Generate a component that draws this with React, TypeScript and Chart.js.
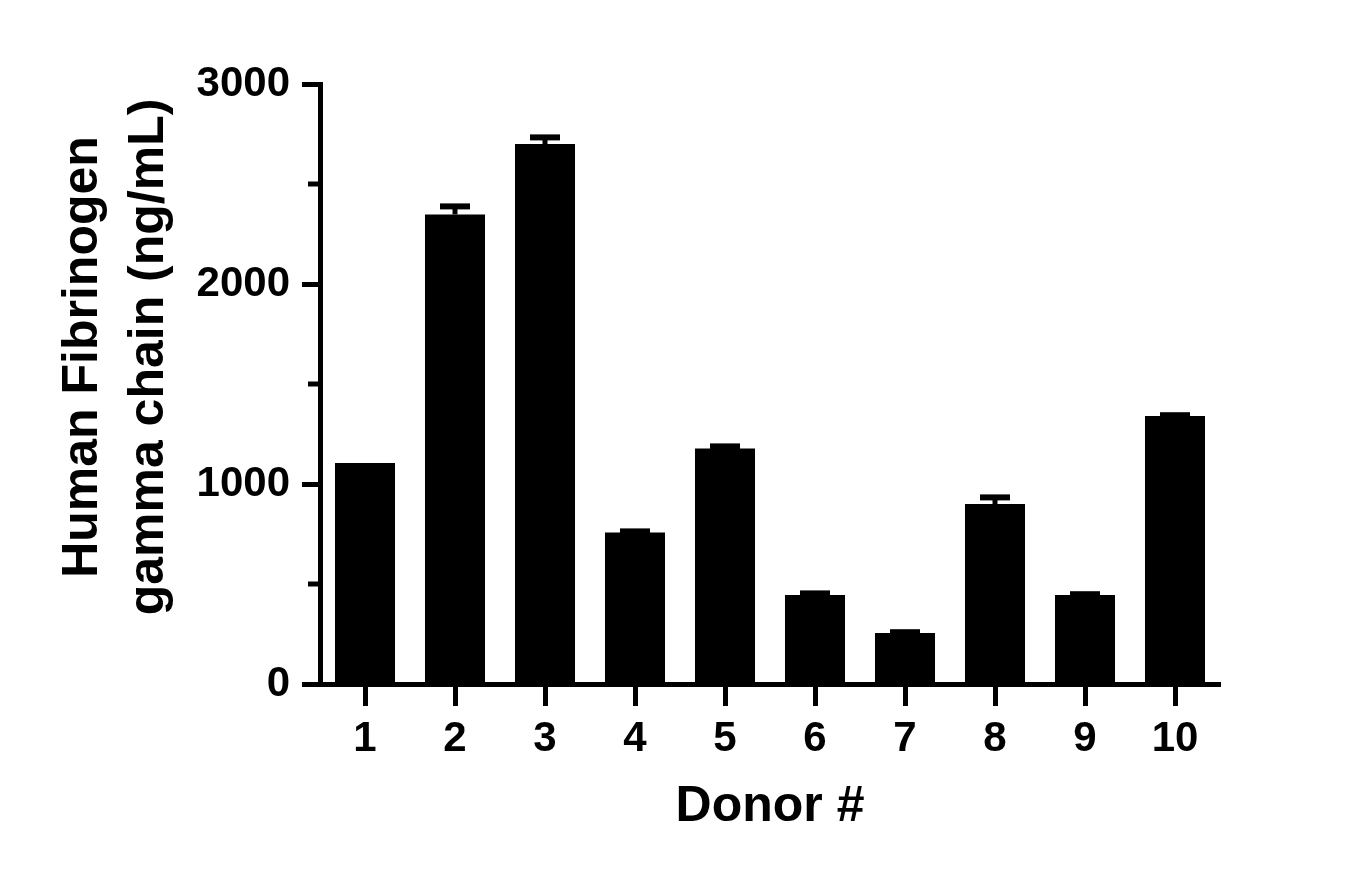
import { useEffect, useRef } from 'react';
import { Chart, registerables } from 'chart.js';

Chart.register(...registerables);

// ─── Data ────────────────────────────────────────────────────────────────────

const DONORS = ['1', '2', '3', '4', '5', '6', '7', '8', '9', '10'];
const MEANS  = [1105, 2348, 2700, 757, 1178, 445, 255, 900, 445, 1340];
const ERRORS = [0, 40, 33, 6, 10, 8, 4, 33, 4, 4];

const Y_MAJOR = [0, 1000, 2000, 3000];
const Y_MINOR = [500, 1500, 2500];

const Y_TITLE = ['Human Fibrinogen', 'gamma chain (ng/mL)'];
const X_TITLE = 'Donor #';

const FAMILY = '"Liberation Sans", Arial, sans-serif';
const TICK_FONT  = { family: FAMILY, size: 42, weight: 'bold' as const };
const TITLE_FONT = { family: FAMILY, size: 50, weight: 'bold' as const };

// ─── Plugins ──────────────────────────────────────────────────────────────────

const errorBars = {
  id: 'errorBars',
  afterDatasetsDraw(chart: Chart) {
    const { ctx, scales: { x, y } } = chart;
    ctx.save();
    ctx.strokeStyle = '#000';
    MEANS.forEach((m, i) => {
      const e = ERRORS[i];
      if (!e) return;
      const px   = x.getPixelForValue(i);
      const base = y.getPixelForValue(m);
      const top  = y.getPixelForValue(m + e);
      ctx.lineWidth = 5;
      ctx.beginPath();
      ctx.moveTo(px, base);
      ctx.lineTo(px, top);
      ctx.stroke();
      ctx.lineWidth = 6;
      ctx.beginPath();
      ctx.moveTo(px - 15, top);
      ctx.lineTo(px + 15, top);
      ctx.stroke();
    });
    ctx.restore();
  },
};

const minorTicks = {
  id: 'minorTicks',
  afterDraw(chart: Chart) {
    const { ctx, chartArea, scales: { y } } = chart;
    ctx.save();
    ctx.strokeStyle = '#000';
    ctx.lineWidth = 5;
    Y_MINOR.forEach(v => {
      const py = y.getPixelForValue(v);
      ctx.beginPath();
      ctx.moveTo(chartArea.left - 12, py);
      ctx.lineTo(chartArea.left, py);
      ctx.stroke();
    });
    ctx.restore();
  },
};

// two-line y title, centred a little above the axis middle like the original
const yTitle = {
  id: 'yTitle',
  afterDraw(chart: Chart) {
    const { ctx } = chart;
    ctx.save();
    ctx.fillStyle = '#000';
    ctx.font = `bold ${TITLE_FONT.size}px ${FAMILY}`;
    ctx.textAlign = 'center';
    ctx.textBaseline = 'alphabetic';
    const baselines = [97, 163];
    Y_TITLE.forEach((line, i) => {
      ctx.save();
      ctx.translate(baselines[i], 357);
      ctx.rotate(-Math.PI / 2);
      ctx.fillText(line, 0, 0);
      ctx.restore();
    });
    ctx.restore();
  },
};

// ─── Bar chart ────────────────────────────────────────────────────────────────

function DonorChart() {
  const canvasRef = useRef<HTMLCanvasElement>(null);
  const chartRef  = useRef<Chart | null>(null);

  useEffect(() => {
    if (!canvasRef.current) return;

    const existingChart = Chart.getChart(canvasRef.current);
    if (existingChart) existingChart.destroy();
    chartRef.current?.destroy();

    chartRef.current = new Chart(canvasRef.current, {
      type: 'bar',
      data: {
        labels: DONORS,
        datasets: [{
          data: MEANS,
          backgroundColor: '#000',
          borderWidth: 0,
          barPercentage: 0.667,
          categoryPercentage: 1,
        }],
      },
      options: {
        responsive: true,
        maintainAspectRatio: false,
        animation: false,
        layout: { padding: { top: 84, right: 138, left: 0, bottom: 0 } },
        plugins: {
          legend: { display: false },
          tooltip: { enabled: false },
        },
        scales: {
          x: {
            offset: true,
            grid: {
              offset: false,
              drawOnChartArea: false,
              tickLength: 22,
              tickWidth: 5,
              tickColor: '#000',
            },
            border: { color: '#000', width: 5 },
            ticks: { color: '#000', font: TICK_FONT, padding: 8 },
            title: {
              display: true,
              text: X_TITLE,
              color: '#000',
              font: TITLE_FONT,
              padding: { top: 0, bottom: 39 },
            },
            afterFit: (scale: any) => { scale.height = 192; },
          },
          y: {
            min: 0,
            max: 3000,
            afterBuildTicks: (scale: any) => {
              scale.ticks = Y_MAJOR.map(v => ({ value: v }));
            },
            grid: {
              drawOnChartArea: false,
              tickLength: 18,
              tickWidth: 5,
              tickColor: '#000',
            },
            border: { color: '#000', width: 5 },
            ticks: {
              color: '#000',
              font: TICK_FONT,
              padding: 12,
              callback: (v: any) => String(v),
            },
            afterFit: (scale: any) => { scale.width = 320; },
          },
        },
      },
      plugins: [errorBars, minorTicks, yTitle],
    });

    return () => { chartRef.current?.destroy(); chartRef.current = null; };
  }, []);

  return <canvas ref={canvasRef} />;
}

export default function App() {
  return (
    <div style={{ position: 'fixed', left: 0, top: 0, width: 1358, height: 876, background: '#fff' }}>
      <DonorChart />
    </div>
  );
}
